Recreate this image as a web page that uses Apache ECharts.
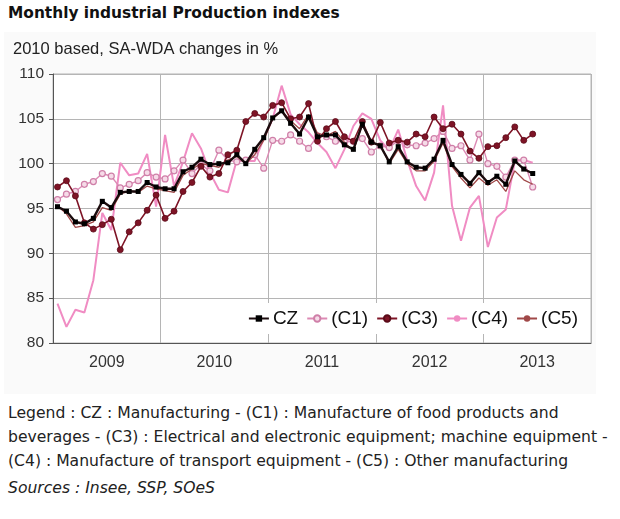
<!DOCTYPE html>
<html>
<head>
<meta charset="utf-8">
<script src="https://cdn.jsdelivr.net/npm/echarts@6/dist/echarts.min.js"></script>
<style>
    body { margin: 0; background: #fff; width: 620px; height: 519px; position: relative; overflow: hidden; }
    #title { position: absolute; left: 8px; top: 4px; font: bold 15.4px "DejaVu Sans", sans-serif; color: #111; white-space: nowrap; }
    #panel { position: absolute; left: 4px; top: 32px; width: 592px; height: 362px; background: #fafafa; }
    #chart { position: absolute; left: 0; top: 32px; width: 620px; height: 363px; }
    #notes { position: absolute; left: 8px; top: 401px; font: 15.6px/24px "DejaVu Sans", sans-serif; color: #222; white-space: nowrap; }
    #sources { position: absolute; left: 8px; top: 479px; font: italic 15.6px "DejaVu Sans", sans-serif; color: #222; white-space: nowrap; }
</style>
</head>
<body>
<div id="title">Monthly industrial Production indexes</div>
<div id="panel"></div>
<div id="chart"></div>
<div id="notes">Legend : CZ : Manufacturing - (C1) : Manufacture of food products and<br>beverages - (C3) : Electrical and electronic equipment; machine equipment -<br>(C4) : Manufacture of transport equipment - (C5) : Other manufacturing</div>
<div id="sources">Sources : Insee, SSP, SOeS</div>
<script>
    // 年份与月份（Jan 2009 - Dec 2013）
    const years = ['2009', '2010', '2011', '2012', '2013'];
    const months = ['01', '02', '03', '04', '05', '06', '07', '08', '09', '10', '11', '12'];
    const categories = years.flatMap(y => months.map(m => y + '-' + m));

    // 各序列（Jan 2009 - Jun 2013）
    const cz = [95.2, 94.7, 93.5, 93.3, 93.9, 95.8, 95.1, 96.8, 96.9, 96.9, 97.9, 97.4, 97.2, 97.2, 99.1, 99.6, 100.5, 99.9, 100.0, 100.1, 101.0, 100.0, 101.6, 102.9, 105.1, 105.9, 104.5, 103.3, 105.2, 103.0, 103.2, 103.2, 102.1, 101.6, 104.4, 102.4, 102.0, 100.2, 101.9, 100.2, 99.6, 99.5, 100.5, 102.6, 99.9, 98.8, 97.8, 99.0, 97.9, 98.6, 97.7, 100.3, 99.4, 98.9];
    const c1 = [96.0, 96.6, 96.9, 97.7, 98.0, 98.9, 98.6, 97.3, 97.7, 98.1, 99.0, 98.5, 98.3, 99.2, 100.4, 98.9, 99.9, 99.2, 101.5, 100.4, 100.2, 100.4, 101.0, 99.5, 102.6, 102.5, 103.2, 102.5, 101.7, 103.1, 103.0, 102.5, 102.4, 102.5, 102.8, 101.3, 102.0, 101.8, 102.6, 102.1, 102.0, 102.3, 102.8, 103.6, 101.7, 102.0, 100.4, 103.3, 100.0, 99.7, 98.5, 100.4, 100.4, 97.4];
    const c3 = [97.4, 98.1, 96.4, 93.4, 92.7, 93.2, 93.8, 90.4, 92.4, 93.4, 94.8, 96.5, 93.9, 94.7, 96.9, 97.9, 99.7, 98.5, 98.9, 101.0, 101.5, 104.7, 105.6, 105.2, 106.5, 106.8, 105.0, 105.2, 106.7, 102.5, 103.9, 104.7, 103.0, 102.5, 104.7, 102.4, 104.6, 102.3, 102.6, 102.4, 103.3, 103.0, 105.2, 103.9, 104.4, 103.3, 101.4, 100.6, 101.9, 102.0, 102.9, 104.1, 102.6, 103.3];
    const c4 = [84.4, 81.8, 83.7, 83.4, 87.0, 94.5, 92.6, 100.1, 98.7, 98.9, 101.1, 95.2, 103.2, 97.5, 100.2, 103.4, 101.7, 99.0, 97.1, 96.8, 100.4, 100.3, 100.3, 102.8, 105.0, 108.7, 105.5, 104.4, 103.5, 102.3, 101.3, 99.5, 101.6, 104.2, 105.6, 105.0, 102.6, 101.5, 103.8, 100.4, 97.5, 95.9, 99.0, 106.5, 95.3, 91.4, 95.1, 96.4, 90.7, 94.0, 94.9, 100.3, 100.4, 100.1];
    const c5 = [95.3, 94.4, 92.9, 93.1, 93.5, 95.1, 94.8, 96.6, 97.0, 96.8, 97.5, 97.2, 97.0, 96.8, 98.7, 99.4, 100.0, 99.8, 99.6, 100.4, 100.8, 100.0, 101.0, 102.6, 105.0, 105.9, 104.8, 103.9, 105.5, 103.4, 103.1, 103.6, 102.4, 101.4, 104.4, 102.2, 102.2, 100.0, 101.6, 100.0, 99.2, 99.2, 100.3, 102.3, 99.7, 98.4, 97.3, 98.4, 97.6, 98.2, 96.9, 99.2, 98.2, 97.7];

    const myChart = echarts.init(document.getElementById('chart'));
    const font = '"Liberation Sans", Arial, sans-serif';
    const yearStart = (i) => i % 12 === 0;

    const option = {
        animation: false,
        textStyle: { fontFamily: font },
        title: {
            text: '2010 based, SA-WDA changes in %',
            left: 8,
            top: 4,
            textStyle: { fontSize: 16.5, fontWeight: 'normal', color: '#222', fontFamily: font }
        },
        legend: {
            right: 30,
            top: 271,
            padding: [6, 12, 6, 6],
            itemGap: 8,
            itemWidth: 20,
            itemHeight: 8,
            backgroundColor: '#fff',
            textStyle: { fontSize: 19, color: '#111', fontFamily: font, padding: [0, 0, 0, -1] },
            data: ['CZ', '(C1)', '(C3)', '(C4)', '(C5)']
        },
        grid: {
            left: 53,
            right: 29,
            top: 42,
            bottom: 52,
            show: true,
            backgroundColor: '#fff',
            borderColor: '#b5b5b5',
            borderWidth: 1
        },
        xAxis: {
            type: 'category',
            data: categories,
            boundaryGap: true,
            axisLine: { lineStyle: { color: '#555', width: 1 } },
            axisTick: { interval: (i) => yearStart(i), length: 5, lineStyle: { color: '#555' } },
            splitLine: { show: true, interval: (i) => yearStart(i), lineStyle: { color: '#b5b5b5' } },
            axisLabel: {
                interval: (i) => i % 12 === 6,
                formatter: (v) => v.slice(0, 4),
                fontSize: 16,
                color: '#333',
                margin: 12,
                padding: [0, 9, 0, 0]
            }
        },
        yAxis: {
            type: 'value',
            min: 80,
            max: 110,
            interval: 5,
            axisLine: { show: true, lineStyle: { color: '#555', width: 1 } },
            axisTick: { show: true, length: 4, lineStyle: { color: '#555' } },
            splitLine: { lineStyle: { color: '#b5b5b5' } },
            axisLabel: { fontSize: 15.5, color: '#333', margin: 9 }
        },
        series: [
            {
                name: 'CZ', type: 'line', data: cz, z: 6,
                symbol: 'rect', symbolSize: 5, showAllSymbol: true,
                lineStyle: { color: '#1c0c0e', width: 2.4 },
                itemStyle: { color: '#000' }
            },
            {
                name: '(C1)', type: 'line', data: c1, z: 3,
                symbol: 'circle', symbolSize: 6, showAllSymbol: true,
                lineStyle: { color: '#dc8ab4', width: 1.4 },
                itemStyle: { color: '#f6dbe8', borderColor: '#cf7fa8', borderWidth: 1.2 }
            },
            {
                name: '(C3)', type: 'line', data: c3, z: 5,
                symbol: 'circle', symbolSize: 6, showAllSymbol: true,
                lineStyle: { color: '#7e1426', width: 1.6 },
                itemStyle: { color: '#7e1426', borderColor: '#5a0a18', borderWidth: 0.8 }
            },
            {
                name: '(C4)', type: 'line', data: c4, z: 2,
                symbol: 'none',
                lineStyle: { color: '#f08cc3', width: 2 },
                itemStyle: { color: '#f08cc3' }
            },
            {
                name: '(C5)', type: 'line', data: c5, z: 4,
                symbol: 'none',
                lineStyle: { color: '#a04848', width: 1.3 },
                itemStyle: { color: '#a04848' }
            }
        ]
    };

    myChart.setOption(option);
</script>
</body>
</html>
